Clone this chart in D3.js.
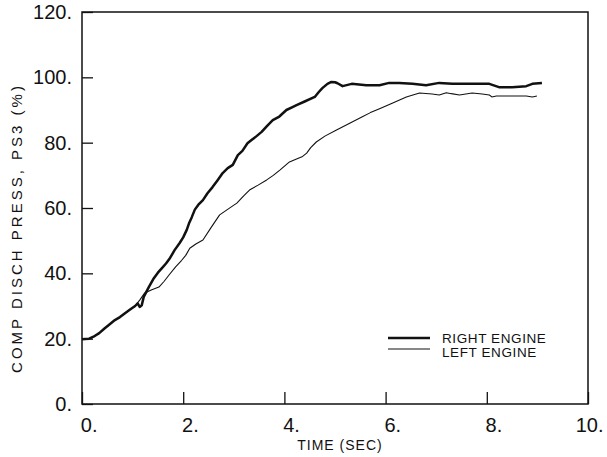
<!DOCTYPE html>
<html>
<head>
<meta charset="utf-8">
<script src="https://cdn.jsdelivr.net/npm/d3@7"></script>
<style>
  html, body { margin: 0; padding: 0; background: #fff; }
  svg { display: block; }
  text { font-family: "Liberation Sans", Arial, Helvetica, sans-serif; fill: #111; }
</style>
</head>
<body>
<svg id="chart" width="607" height="457"></svg>
<script>
// ---- data ----
const rightTime = [0.0,0.06,0.14,0.25,0.34,0.45,0.53,0.65,0.75,0.85,0.95,1.05,1.1,1.14,1.18,1.22,1.32,1.42,1.5,1.58,1.66,1.74,1.83,1.93,2.0,2.07,2.12,2.17,2.23,2.3,2.39,2.48,2.58,2.68,2.78,2.88,2.98,3.08,3.17,3.27,3.35,3.45,3.55,3.65,3.77,3.9,4.04,4.16,4.24,4.4,4.6,4.68,4.75,4.85,4.93,5.0,5.05,5.15,5.33,5.62,5.88,6.07,6.27,6.53,6.8,7.06,7.32,7.59,7.86,8.05,8.24,8.5,8.78,8.9,9.09];
const rightPress = [19.8,19.9,20.0,20.8,21.7,23.2,24.2,25.7,26.6,27.8,28.9,30.0,30.8,29.7,30.2,32.8,35.8,38.5,40.2,41.6,43.0,44.7,47.1,49.3,51.0,53.3,55.5,57.2,59.5,61.0,62.4,64.5,66.4,68.5,70.7,72.2,73.2,76.2,77.5,79.8,80.8,82.0,83.3,85.0,86.9,88.0,90.0,90.9,91.5,92.6,94.0,95.5,96.7,98.0,98.6,98.5,98.2,97.3,98.0,97.6,97.6,98.3,98.3,98.0,97.6,98.3,98.0,98.0,98.0,98.0,97.0,97.0,97.3,98.0,98.3];

const leftTime = [0.0,0.06,0.14,0.25,0.34,0.45,0.53,0.65,0.75,0.85,0.95,1.05,1.14,1.24,1.38,1.52,1.62,1.72,1.85,1.97,2.05,2.13,2.25,2.39,2.55,2.72,2.9,3.06,3.2,3.31,3.48,3.65,3.78,3.91,4.1,4.24,4.36,4.44,4.52,4.63,4.8,5.03,5.3,5.54,5.7,5.88,6.13,6.41,6.67,6.92,7.06,7.2,7.3,7.46,7.71,7.91,8.05,8.1,8.19,8.5,8.78,8.9,8.99];
const leftPress = [19.8,19.9,20.0,20.8,21.7,23.2,24.2,25.7,26.6,27.8,28.9,30.0,31.8,34.0,35.0,35.8,37.5,39.5,42.0,44.0,45.5,47.7,49.0,50.2,54.0,57.9,59.8,61.5,63.8,65.5,67.0,68.6,70.0,71.6,74.1,75.0,75.8,76.8,78.5,80.2,82.0,83.9,86.0,87.9,89.2,90.4,92.1,94.0,95.2,94.9,94.6,95.3,95.0,94.6,95.2,94.9,94.6,94.0,94.3,94.3,94.3,94.0,94.3];

const xTicks = [0, 2, 4, 6, 8, 10];
const yTicks = [0, 20, 40, 60, 80, 100, 120];
const seriesNames = ["RIGHT ENGINE", "LEFT ENGINE"];
const xTitle = "TIME (SEC)";
const yTitle = "COMP DISCH PRESS, PS3 (%)";

// ---- layout ----
const svg = d3.select("#chart");
const L = 82, R = 588, T = 12, B = 404;
const x = d3.scaleLinear().domain([0, 10]).range([L, R]);
const y = d3.scaleLinear().domain([0, 120]).range([B, T]);

// frame
svg.append("rect")
  .attr("x", L).attr("y", T).attr("width", R - L).attr("height", B - T)
  .attr("fill", "none").attr("stroke", "#111").attr("stroke-width", 1.5);

// left axis
const yAxis = d3.axisLeft(y).tickValues(yTicks).tickSizeInner(-11).tickSizeOuter(0)
  .tickFormat(d => d + ".");
const gy = svg.append("g").attr("transform", `translate(${L},0)`).call(yAxis);
gy.select(".domain").remove();
gy.selectAll(".tick line").attr("stroke", "#111").attr("stroke-width", 1.3);
gy.selectAll(".tick text").attr("x", -10).attr("font-size", 20)
  .attr("font-family", "Liberation Sans, Arial, sans-serif").attr("fill", "#111");

// bottom axis
const xAxis = d3.axisBottom(x).tickValues(xTicks).tickSizeInner(-12).tickSizeOuter(0)
  .tickFormat(d => d + ".");
const gx = svg.append("g").attr("transform", `translate(0,${B})`).call(xAxis);
gx.select(".domain").remove();
gx.selectAll(".tick line").attr("stroke", "#111").attr("stroke-width", 1.3);
gx.selectAll(".tick text").attr("y", 28).attr("dy", 0).attr("x", 15)
  .attr("text-anchor", "end").attr("font-size", 20)
  .attr("font-family", "Liberation Sans, Arial, sans-serif").attr("fill", "#111");

// titles
svg.append("text").attr("x", 340).attr("y", 450).attr("text-anchor", "middle")
  .attr("font-size", 14).attr("letter-spacing", 1).text(xTitle);
svg.append("text").attr("transform", "translate(22,228) rotate(-90)")
  .attr("text-anchor", "middle").attr("font-size", 15).attr("letter-spacing", 3)
  .text(yTitle);

// lines
const line = d3.line().x(d => x(d[0])).y(d => y(d[1])).curve(d3.curveLinear);
const rightData = rightTime.map((t, i) => [t, rightPress[i]]);
const leftData = leftTime.map((t, i) => [t, leftPress[i]]);

svg.append("path").datum(leftData).attr("d", line)
  .attr("fill", "none").attr("stroke", "#111").attr("stroke-width", 1.1)
  .attr("stroke-linejoin", "round");
svg.append("path").datum(rightData).attr("d", line)
  .attr("fill", "none").attr("stroke", "#111").attr("stroke-width", 2.5)
  .attr("stroke-linejoin", "round");

// legend
const lg = svg.append("g");
const legendRows = [
  {name: seriesNames[0], w: 2.5, ly: 338, ty: 343},
  {name: seriesNames[1], w: 1.1, ly: 349, ty: 357}
];
legendRows.forEach(r => {
  lg.append("line").attr("x1", 388).attr("x2", 430).attr("y1", r.ly).attr("y2", r.ly)
    .attr("stroke", "#111").attr("stroke-width", r.w);
  lg.append("text").attr("x", 442).attr("y", r.ty).attr("font-size", 13.5)
    .attr("letter-spacing", 0.6).text(r.name);
});
</script>
</body>
</html>
